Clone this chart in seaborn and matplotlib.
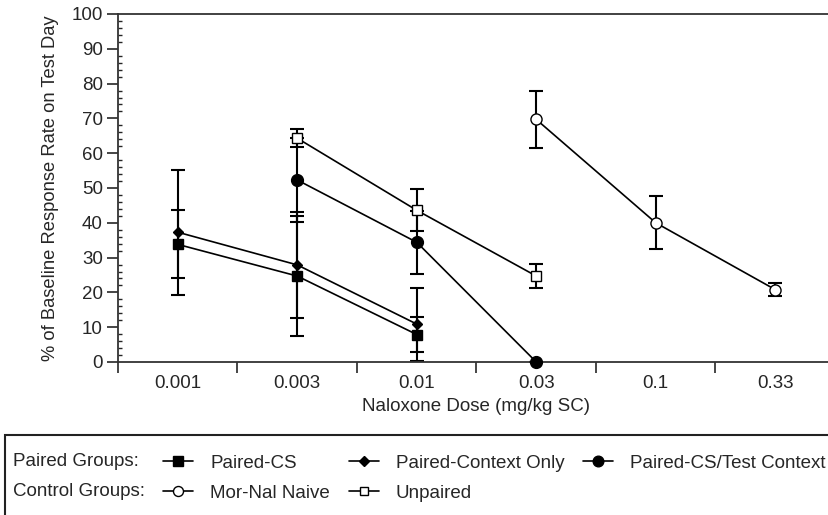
import numpy as np
import pandas as pd
import matplotlib
matplotlib.use("Agg")
import matplotlib.pyplot as plt
from matplotlib.lines import Line2D
from matplotlib.patches import Rectangle
from matplotlib.ticker import MultipleLocator, FixedLocator
import seaborn as sns

# dose categories (x axis is categorical, evenly spaced)
doses = ["0.001", "0.003", "0.01", "0.03", "0.1", "0.33"]

# Paired groups
paired_cs_dose = ["0.001", "0.003", "0.01"]
paired_cs = [33.8, 24.7, 7.9]
paired_cs_err = [9.8, 17.2, 5.0]

context_only_dose = ["0.001", "0.003", "0.01"]
context_only = [37.3, 27.9, 10.9]
context_only_err = [18.0, 15.3, 10.5]

cs_test_dose = ["0.003", "0.01", "0.03"]
cs_test = [52.3, 34.4, 0.0]
cs_test_err = [12.2, 9.0, 0.0]

# Control groups
mornal_dose = ["0.03", "0.1", "0.33"]
mornal = [69.7, 40.0, 20.8]
mornal_err = [8.1, 7.6, 1.9]

unpaired_dose = ["0.003", "0.01", "0.03"]
unpaired = [64.3, 43.6, 24.7]
unpaired_err = [2.6, 6.0, 3.5]

series = [
    ("Paired-CS", paired_cs_dose, paired_cs, paired_cs_err,
     dict(marker="s", ms=7.5, mfc="black")),
    ("Paired-Context Only", context_only_dose, context_only, context_only_err,
     dict(marker="D", ms=5.5, mfc="black")),
    ("Paired-CS/Test Context", cs_test_dose, cs_test, cs_test_err,
     dict(marker="o", ms=8.5, mfc="black")),
    ("Mor-Nal Naive", mornal_dose, mornal, mornal_err,
     dict(marker="o", ms=8, mfc="white")),
    ("Unpaired", unpaired_dose, unpaired, unpaired_err,
     dict(marker="s", ms=6.5, mfc="white")),
]

sns.set_theme(style="ticks")
plt.rcParams["font.family"] = ["Liberation Sans", "DejaVu Sans"]
FS = 13.5

W, H = 829, 515
fig = plt.figure(figsize=(W / 100, H / 100), dpi=100)
ax = fig.add_axes([118 / W, (H - 362) / H, 717 / W, 348 / H])

pos = {d: i for i, d in enumerate(doses)}
for name, xd, y, err, st in series:
    x = [pos[d] for d in xd]
    ax.errorbar(x, y, yerr=err, fmt="none", ecolor="black", elinewidth=1.5,
                capsize=5, capthick=1.5, zorder=2)
    df = pd.DataFrame({"x": x, "y": y})
    sns.lineplot(data=df, x="x", y="y", ax=ax, color="black", lw=1.2,
                 marker=st["marker"], markersize=st["ms"],
                 markerfacecolor=st["mfc"], markeredgecolor="black",
                 markeredgewidth=1.0, zorder=3, clip_on=False)

ax.set_xlim(-0.5, 5.5)
ax.set_ylim(0, 100)
ax.set_xticks(range(len(doses)))
ax.set_xticklabels(doses)
ax.xaxis.set_minor_locator(FixedLocator(np.arange(-0.5, 5.0, 1.0)))
ax.tick_params(axis="x", which="major", length=0, pad=9, labelsize=FS)
ax.tick_params(axis="x", which="minor", length=8, width=1.2, direction="out")
ax.yaxis.set_major_locator(MultipleLocator(10))
ax.yaxis.set_minor_locator(MultipleLocator(2))
ax.tick_params(axis="y", which="major", length=8, width=1.2, direction="out",
               labelsize=FS, pad=3)
ax.tick_params(axis="y", which="minor", length=3, width=1.0, direction="in")

for s in ["left", "bottom", "top"]:
    ax.spines[s].set_linewidth(1.3)
    ax.spines[s].set_color("#333333")
ax.spines["right"].set_visible(False)

ax.set_xlabel("Naloxone Dose (mg/kg SC)", fontsize=FS, labelpad=5)
ax.set_ylabel("% of Baseline Response Rate on Test Day", fontsize=13.2, labelpad=9)

# legend box below the plot
fig.add_artist(Rectangle((5 / W, -0.1), 1.2, (H - 435) / H + 0.1,
                         transform=fig.transFigure, fill=False,
                         lw=1.5, edgecolor="#222222"))

handles = []
labels = []
for name, xd, y, err, st in series:
    handles.append(Line2D([], [], color="black", lw=1.2, marker=st["marker"],
                          ms=st["ms"] * 0.9, mfc=st["mfc"], mec="black"))
    labels.append(name)
blank = Line2D([], [], color="none")
order = [0, 3, 1, 4, 2]
h = [handles[i] for i in order] + [blank]
l = [labels[i] for i in order] + [""]
fig.legend(h, l, ncol=3, loc="upper left",
           bbox_to_anchor=(154 / W, (H - 445) / H), frameon=False,
           borderpad=0, fontsize=FS, handlelength=1.6, handletextpad=0.9,
           columnspacing=1.0, labelspacing=0.7)

fig.text(13 / W, (H - 461) / H, "Paired Groups:", fontsize=FS, va="center")
fig.text(13 / W, (H - 492) / H, "Control Groups:", fontsize=FS, va="center")

fig.savefig("out.png", dpi=100)
